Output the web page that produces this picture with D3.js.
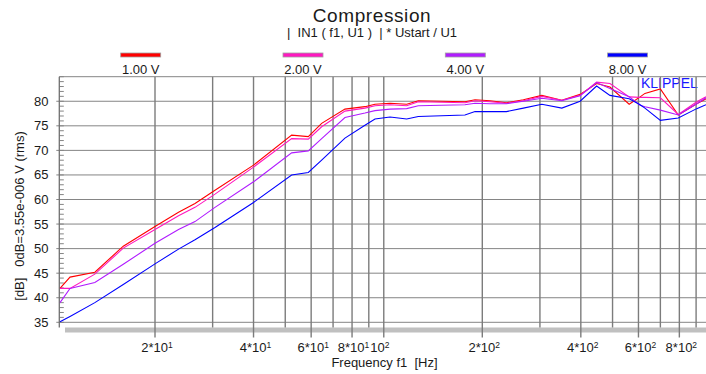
<!DOCTYPE html>
<html>
<head>
<meta charset="utf-8">
<script src="https://cdn.jsdelivr.net/npm/d3@7"></script>
<style>
  body { margin: 0; background: #fff; }
  text { font-family: "Liberation Sans", Arial, sans-serif; fill: #1a1a1a; }
</style>
</head>
<body>
<div id="chart"></div>
<script>
// frequencies [Hz] of the measured points
var freqs = [10.25, 11.0, 13.1, 16.0, 20, 23.6, 26.5, 30.5, 40, 52.3, 58.8, 64.6, 76.1, 87.6, 94, 104.5,
  117.5, 127.5, 177, 190, 211, 237, 267, 304, 350, 398, 447, 491, 562, 607, 628, 700, 794, 904, 965];

// level in dB for each drive voltage
var u1V = [41.9, 44.2, 45.2, 50.5, 54.5, 57.4, 59.2, 61.9, 67.0, 73.1, 72.8, 75.5, 78.4, 78.9, 79.4, 79.6,
  79.4, 80.1, 79.9, 80.3, 80.1, 79.7, 80.3, 81.2, 80.2, 81.4, 83.6, 82.9, 79.4, 80.9, 81.6, 82.5, 77.2, 79.5, 80.5];
var u2V = [41.9, 41.9, 44.8, 50.1, 53.9, 56.7, 58.4, 61.1, 66.6, 72.4, 72.3, 74.8, 78.0, 78.6, 79.1, 79.3,
  79.1, 79.9, 79.7, 80.1, 79.9, 79.6, 80.1, 81.0, 80.2, 81.2, 83.9, 83.6, 80.9, 80.8, 80.8, 80.7, 77.3, 79.9, 80.9];
var u4V = [39.0, 41.9, 43.1, 46.8, 51.1, 53.9, 55.5, 58.4, 63.6, 69.5, 69.9, 72.4, 76.7, 77.6, 78.1, 78.4,
  78.5, 79.1, 79.3, 79.6, 79.5, 79.5, 80.0, 80.6, 80.1, 81.1, 83.8, 82.6, 80.9, 79.2, 78.9, 78.2, 77.2, 79.5, 80.7];
var u8V = [35.1, 36.2, 39.0, 42.7, 46.9, 49.9, 51.8, 54.3, 59.4, 65.0, 65.5, 68.0, 72.5, 75.1, 76.4, 76.8,
  76.4, 76.9, 77.2, 77.9, 77.9, 77.9, 78.6, 79.4, 78.6, 80.0, 83.1, 81.2, 80.5, 79.3, 78.6, 76.1, 76.6, 78.5, 79.3];

var seriesNames = ["1.00 V", "2.00 V", "4.00 V", "8.00 V"];
var seriesColors = ["#ff0000", "#ff18c0", "#b01cff", "#0000ff"];

var yTicks = [35, 40, 45, 50, 55, 60, 65, 70, 75, 80];
var xLabelVals = [20, 40, 60, 80, 100, 200, 400, 600, 800];
var xLabelMant = ["2*10", "4*10", "6*10", "8*10", "10", "2*10", "4*10", "6*10", "8*10"];
var xLabelExp = ["1", "1", "1", "1", "2", "2", "2", "2", "2"];

var width = 706, height = 374;
var plot = { left: 59.3, right: 706, top: 76.7, bottom: 322.3 };

var svg = d3.select("#chart").append("svg")
    .attr("width", width)
    .attr("height", height);

var x = d3.scaleLog().domain([20, 200]).range([155, 482.3]);
var y = d3.scaleLinear().domain([35, 85]).range([plot.bottom, plot.top]);

// titles
svg.append("text")
    .attr("x", 372).attr("y", 22)
    .attr("text-anchor", "middle")
    .style("font-size", "19px")
    .style("letter-spacing", "0.6px")
    .text("Compression");

svg.append("text")
    .attr("x", 372).attr("y", 37)
    .attr("text-anchor", "middle")
    .attr("xml:space", "preserve")
    .style("font-size", "13px")
    .text("|  IN1 ( f1, U1 )  | * Ustart / U1");

// legend
var legend = svg.append("g").selectAll("g")
    .data(seriesNames)
    .enter().append("g")
    .attr("transform", function(d, i) { return "translate(" + (120.7 + i * 162.3) + ",0)"; });

legend.append("rect")
    .attr("x", 0).attr("y", 53)
    .attr("width", 40).attr("height", 4)
    .attr("fill", function(d, i) { return seriesColors[i]; })
    .attr("stroke", "#a0a0a0")
    .attr("stroke-width", 0.8);

legend.append("text")
    .attr("x", 20).attr("y", 74)
    .attr("text-anchor", "middle")
    .style("font-size", "13px")
    .text(function(d) { return d; });

// KLIPPEL mark (under the grid)
svg.append("text")
    .attr("x", 641).attr("y", 88)
    .style("font-size", "14px")
    .style("fill", "#1818ff")
    .text("KLIPPEL");

// shadow bar under the x axis
svg.append("rect")
    .attr("x", 65).attr("y", 327.5)
    .attr("width", width - 65).attr("height", 5)
    .attr("fill", "#c0c0c0");

// grid
var grid = svg.append("g").attr("stroke", "#858585").attr("stroke-width", 1);

var yMinor = d3.range(35, 86, 1);
grid.selectAll("line.minor")
    .data(yMinor)
    .enter().append("line")
    .attr("class", "minor")
    .attr("x1", plot.left).attr("x2", plot.left + 4.5)
    .attr("y1", function(d) { return y(d); })
    .attr("y2", function(d) { return y(d); });

grid.selectAll("line.hgrid")
    .data(yTicks)
    .enter().append("line")
    .attr("class", "hgrid")
    .attr("x1", plot.left - 3).attr("x2", plot.right)
    .attr("y1", function(d) { return y(d); })
    .attr("y2", function(d) { return y(d); });

var xGrid = d3.range(20, 100, 10).concat(d3.range(100, 1000, 100));
grid.selectAll("line.vgrid")
    .data(xGrid)
    .enter().append("line")
    .attr("class", "vgrid")
    .attr("stroke", "#7c7c7c")
    .attr("stroke-width", 1.4)
    .attr("x1", function(d) { return x(d); })
    .attr("x2", function(d) { return x(d); })
    .attr("y1", plot.top)
    .attr("y2", function(d) { return xLabelVals.indexOf(d) >= 0 ? 337.5 : 327.5; });

// frame
grid.append("line")
    .attr("x1", plot.left).attr("x2", plot.right)
    .attr("y1", plot.top).attr("y2", plot.top);
grid.append("line")
    .attr("x1", plot.left).attr("x2", plot.left)
    .attr("y1", plot.top).attr("y2", 327.5)
    .attr("stroke", "#707070")
    .attr("stroke-width", 1.3);

// y tick labels
svg.append("g").selectAll("text")
    .data(yTicks)
    .enter().append("text")
    .attr("x", 48.5)
    .attr("y", function(d) { return y(d) + 4.5; })
    .attr("text-anchor", "end")
    .style("font-size", "13px")
    .text(function(d) { return d; });

// x tick labels, mantissa centred on the tick, exponent raised
var xl = svg.append("g").selectAll("text")
    .data(xLabelVals)
    .enter().append("text")
    .attr("x", function(d) { return x(d); })
    .attr("y", 352)
    .attr("text-anchor", function(d) { return d === 100 ? "start" : "middle"; })
    .attr("dx", function(d) { return d === 100 ? -13.5 : (d === 80 ? 1.5 : 2); })
    .style("font-size", "13px");
xl.append("tspan").text(function(d, i) { return xLabelMant[i]; });
xl.append("tspan")
    .attr("dy", -4.5)
    .style("font-size", "8.5px")
    .text(function(d, i) { return xLabelExp[i]; });

// axis titles
svg.append("text")
    .attr("x", 384.5).attr("y", 367)
    .attr("text-anchor", "middle")
    .attr("xml:space", "preserve")
    .style("font-size", "13px")
    .text("Frequency f1  [Hz]");

svg.append("text")
    .attr("transform", "translate(24,216) rotate(-90)")
    .attr("text-anchor", "middle")
    .attr("xml:space", "preserve")
    .style("font-size", "13px")
    .text("[dB]   0dB=3.55e-006 V (rms)");

// curves
svg.append("clipPath").attr("id", "clip")
  .append("rect")
    .attr("x", plot.left).attr("y", plot.top)
    .attr("width", plot.right - plot.left).attr("height", plot.bottom - plot.top);

var line = d3.line()
    .x(function(d) { return x(d[0]); })
    .y(function(d) { return y(d[1]); });

var allSeries = [u1V, u2V, u4V, u8V];
svg.append("g")
    .attr("clip-path", "url(#clip)")
  .selectAll("path")
    .data(allSeries)
    .enter().append("path")
    .attr("fill", "none")
    .attr("stroke", function(d, i) { return seriesColors[i]; })
    .attr("stroke-width", 1.1)
    .attr("d", function(vals) { return line(freqs.map(function(f, j) { return [f, vals[j]]; })); });
</script>
</body>
</html>
